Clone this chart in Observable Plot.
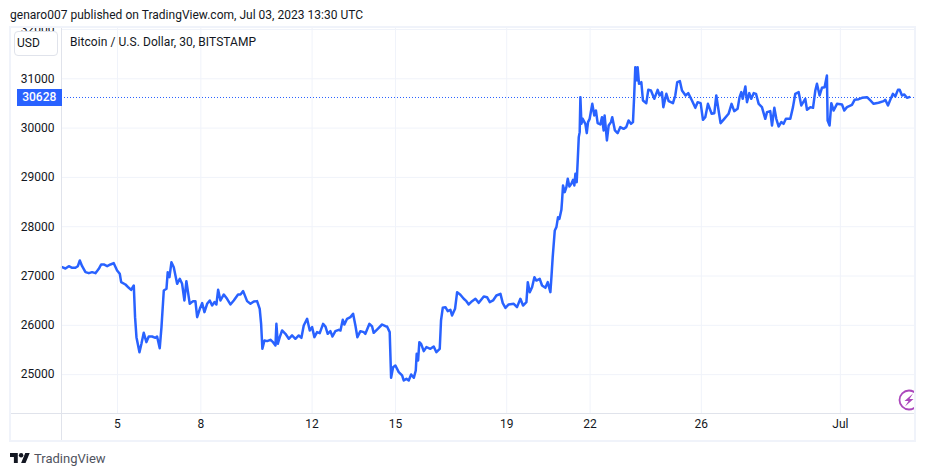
<!DOCTYPE html>
<html>
<head>
<meta charset="utf-8">
<script src="https://cdn.jsdelivr.net/npm/d3@7"></script>
<script src="https://cdn.jsdelivr.net/npm/@observablehq/plot@0.6"></script>
<style>
html,body{margin:0;padding:0;background:#fff;overflow:hidden;font-family:Roboto,sans-serif;color:#131722}
#head{height:26px;line-height:30px;font-size:12px;padding-left:10px;white-space:nowrap;box-sizing:border-box;letter-spacing:.015px}
#wrap{position:relative;width:925px;height:416px}
#wrap svg.plot{display:block;position:absolute;left:0;top:0}
#frame{position:absolute;left:9px;top:0;width:907px;height:416px;border:2px solid #f0f3fa;box-sizing:border-box;pointer-events:none}
#sepV{position:absolute;left:61px;top:2px;width:1px;height:413px;background:#e0e3eb}
#sepH{position:absolute;left:11px;top:387px;width:903px;height:1px;background:#e0e3eb}
#usd{position:absolute;left:14px;top:5px;width:44px;height:25px;background:#fff;border:1px solid #e0e3eb;border-radius:4px;box-sizing:border-box;font-size:12px;line-height:23px;padding-left:2px}
#legend{position:absolute;left:70px;top:9px;font-size:12px;line-height:15px;color:#131722;white-space:nowrap;letter-spacing:.06px}
#tag{position:absolute;left:17px;width:44.5px;height:17px;background:#2962ff;color:#fff;font-size:12px;font-weight:500;line-height:17px;text-align:center}
#bolt{position:absolute;left:897px;top:363px}
#foot{height:34px;position:relative}
#foot svg{position:absolute;left:10px;top:11px}
#foot span{position:absolute;left:34px;top:8px;font-size:13px;line-height:18px;color:#50535e}
</style>
</head>
<body>
<div id="head">genaro007 published on TradingView.com, Jul 03, 2023 13:30 UTC</div>
<div id="wrap"></div>
<div id="foot">
<svg width="20" height="10" viewBox="0 4 36 18"><path fill="#131722" d="M14 22H7V11H0V4h14v18zM28 22h-8l7.5-18h8L28 22z"/><circle fill="#131722" cx="20" cy="8" r="4"/></svg>
<span>TradingView</span>
</div>
<script>
const hours = [0.2,3.1,6,8.9,11.7,13.8,15.5,17.5,20.4,23.3,26.1,29,31.9,33.9,36.2,39.1,42,44.8,47.7,50,51.2,54.9,57.8,59.8,62.1,63.2,64.4,67,68.7,70.7,73,75,77.9,80.8,82.2,84.5,86,88,90.3,91.4,92.9,94.6,96.6,99.5,101.8,103.8,105.8,107.5,110.4,
113.3,115.3,116.8,119.1,121.1,123.1,125.4,127.7,129.7,131.7,133.4,134.9,136.9,139.8,142.6,145.5,148.4,152.1,154.2,156.5,159.9,162.8,165.7,168.5,170.8,172,173.1,174.9,177.2,180,182.3,184.4,185.2,186.4,188.1,190.1,193,195.9,198.7,201.6,204.5,206.8,208.8,211.7,214,216,218,220.3,222.6,
225.5,227.5,229.5,231.8,233.6,236.1,239,240.5,242.5,243.9,246.2,249.1,251.4,253.4,255.1,257.7,260.6,262,265.5,267.8,269.2,272.7,276.4,279.3,280.7,283,284.2,285.9,287.9,290.8,293.7,295.1,297.4,299.4,301.5,303.8,305.5,306.3,307.5,308.6,310.1,312.4,314.7,318.1,321,323.3,326.2,327.3,328.8,331.1,333.1,335.4,
336.8,339.4,341.2,344,346.9,349.2,351.2,354.1,357,359.9,364.2,367,369.4,372.2,375.1,378.6,380.6,382.9,385.7,390.1,392.9,395.8,398.1,401,402.2,403.9,405.9,407.9,409.6,412.5,414.5,417.4,419.4,421.7,422.6,423.7,425.5,426.9,428.3,429.5,431.2,431.8,432.6,434.1,435.5,436.7,438.1,439.8,441.3,442.4,443.3,444.4,445.3,446.2,447,447.6,448.5,449.6,451.9,453.1,454.2,
455.6,457.9,459.6,461,462.5,464.8,466.2,467.7,468.5,470.5,472,474,475.1,477.4,479.7,482,484.9,487.2,489.2,491.3,493,494.1,495,496.4,497,498.2,500.2,501.6,504.5,506.2,508.5,511.4,514.3,516,518,519.2,521.8,523.8,527.5,529.5,531.2,533.5,535.3,538.4,540.7,543.9,546.8,548.8,551.4,553.4,555.4,557.7,560.9,563.2,564.9,566.9,568.6,571.8,575.5,578.1,580.4,583.3,585,
586.5,587.7,590,591.4,593.4,595.1,597.2,599.2,601.5,604.3,607.2,608.7,611.5,613,615,616.7,618.7,621,623,625,628.8,631.1,633.1,636,638.3,641.7,643.2,646.1,648.4,650.4,651.8,654.1,656.1,658.4,660.4,661,662.7,664.2,666.2,669.1,673.4,675.4,677.7,682,684.3,687.8,690.7,695,697.9,700.7,705,709.4,710.8,713.1,715.1,717.4,719.4,721.7,723.2,725.2,727.2,729.5,731.5];
const prices = [27180,27153,27200,27167,27167,27200,27315,27200,27079,27058,27079,27058,27146,27234,27234,27200,27234,27261,27112,27045,26876,26828,26761,26720,26808,26166,25760,25456,25625,25848,25659,25774,25774,25747,25774,25537,25963,26707,26741,27079,26977,27281,27180,26842,26943,26842,26504,26896,26436,
26491,26491,26166,26335,26450,26268,26437,26504,26403,26471,26423,26721,26504,26626,26538,26423,26504,26626,26626,26694,26491,26437,26484,26491,26335,26031,25524,25693,25680,25707,25659,25592,26031,25626,25761,25896,25828,25727,25795,25727,25795,25747,25997,26133,25896,25964,25761,25862,25842,
26031,25977,25828,25882,25774,25882,25909,25896,26112,26017,26132,26166,26234,25997,25760,25882,25862,25828,26031,25977,25848,25929,26017,25983,25977,25862,24936,25152,25186,25051,24983,24882,24915,24882,25003,24936,25084,25422,25287,25659,25625,25476,25558,25524,25571,25456,25524,26098,26355,26369,26288,26315,
26200,26335,26673,26619,26538,26490,26423,26490,26538,26456,26585,26571,26470,26504,26605,26639,26450,26355,26423,26436,26369,26538,26402,26470,26876,26673,26774,26977,26909,26943,26808,26761,26876,26673,26977,27383,27924,27991,28194,28160,28343,28532,28836,28701,28803,28972,28816,28870,28951,28836,29073,28904,29343,29817,29918,30628,30087,30188,30087,29898,30121,
30188,30492,30256,30357,30100,30073,30222,29952,30256,29749,30053,30121,30222,29952,29897,30019,29985,30019,30154,30087,30121,30695,31236,30966,31236,30898,30932,30560,30506,30776,30763,30594,30776,30661,30729,30425,30695,30547,30506,30661,30932,30952,30763,30661,30709,30560,30411,30526,30506,30168,30222,30492,30290,30303,30661,30357,30100,30188,30290,30492,30344,30391,30628,
30729,30594,30844,30526,30709,30594,30709,30695,30492,30425,30188,30323,30344,30053,30411,30188,30033,30121,30087,30188,30188,30425,30695,30729,30459,30594,30371,30425,30411,30763,30898,30661,30817,30830,31067,30154,30053,30506,30357,30492,30479,30357,30425,30472,30574,30587,30614,30628,30560,30492,30513,30547,30574,30459,30574,30695,30641,30776,30776,30661,30682,30614,30628];
const xTicks = [48,120,216,288,384,456,552,672];
const xLabels = ["5","8","12","15","19","22","26","Jul"];
const yTicks = [25000,26000,27000,28000,29000,30000,31000,32000];
const lastPrice = 30628;
const data = hours.map((h,i)=>({h,p:prices[i]}));

const plot = Plot.plot({
  width:925,height:416,
  marginLeft:61,marginRight:11,marginTop:2,marginBottom:29,
  style:{background:"transparent",fontFamily:"Roboto,sans-serif",fontSize:"12px",color:"#131722",overflow:"hidden"},
  x:{domain:[-0.3,736],axis:null},
  y:{domain:[24212,32020],axis:null},
  marks:[
    Plot.ruleX(xTicks,{x:d=>d,stroke:"#f0f3fa",strokeWidth:1}),
    Plot.ruleY(yTicks,{y:d=>d,stroke:"#f0f3fa",strokeWidth:1}),
    Plot.axisX({ticks:xTicks,tickFormat:(d)=>xLabels[xTicks.indexOf(d)],tickSize:0,tickPadding:6,label:null,fill:"#131722"}),
    Plot.axisY({ticks:yTicks,tickFormat:d=>String(d),tickSize:0,tickPadding:7,label:null,fill:"#131722"}),
    Plot.ruleY([lastPrice],{stroke:"#2962ff",strokeWidth:1,strokeDasharray:"1,2",dy:0.36}),
    Plot.line(data,{x:"h",y:"p",stroke:"#2962ff",strokeWidth:2.5,strokeLinejoin:"round",strokeLinecap:"round"})
  ]
});
plot.classList.add("plot");
const wrap=document.getElementById("wrap");
wrap.appendChild(plot);
wrap.insertAdjacentHTML("beforeend",`<div id="sepV"></div><div id="sepH"></div><div id="usd">USD</div><div id="legend">Bitcoin / U.S. Dollar, 30, BITSTAMP</div>
<svg id="bolt" width="17" height="24" viewBox="0 0 17 24"><circle cx="12" cy="11" r="9.5" fill="#fff" stroke="#ab47bc" stroke-width="1.8"/><path d="M16 4.5 L7.5 12 H11.5 L8 17.5 L16.5 10 H12.5 Z" fill="#ab47bc"/></svg>
<div id="frame"></div>`);
const tag=document.createElement("div");
tag.id="tag";tag.textContent=String(lastPrice);
tag.style.top=Math.round(plot.scale("y").apply(lastPrice)-7.7)+"px";
wrap.insertBefore(tag,document.getElementById("frame"));
</script>
</body>
</html>
